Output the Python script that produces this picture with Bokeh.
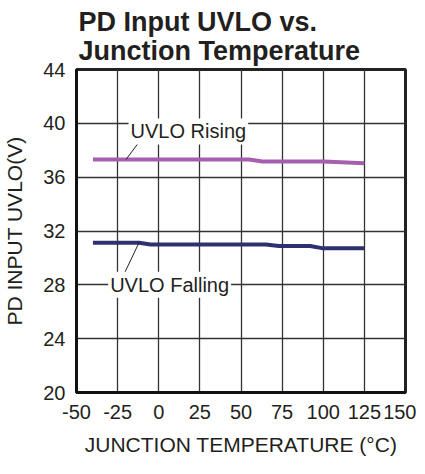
from bokeh.plotting import figure
from bokeh.models import Title, Label, Range1d, FixedTicker
from bokeh.embed import file_html
from bokeh.resources import INLINE

# Data
temp_rising = [-40, 55, 63, 100, 125]
uvlo_rising = [37.31, 37.31, 37.16, 37.16, 37.04]
temp_falling = [-40, -12, -5, 65, 73, 92, 100, 125]
uvlo_falling = [31.13, 31.13, 31.0, 31.0, 30.89, 30.89, 30.71, 30.71]
x_ticks = [-50, -25, 0, 25, 50, 75, 100, 125, 150]
x_tick_labels = ["-50", "-25", "0", "25", "50", "75", "100", "125", "150"]
y_ticks = [20, 24, 28, 32, 36, 40, 44]

# annotation anchors (data units)
rising_label = ("UVLO Rising", 18.0, 39.4)
rising_leader = ([-10.2, -19.9], [38.9, 37.31])
falling_label = ("UVLO Falling", 6.6, 28.0)
falling_leader = ([-12.0, -20.5], [31.13, 28.95])

FONT = "Liberation Sans"
INK = "#231f20"

p = figure(width=416, height=458, output_backend="svg", toolbar_location=None,
           x_range=Range1d(-50, 150), y_range=Range1d(20, 44),
           min_border_left=73, min_border_right=11, min_border_bottom=63,
           min_border_top=10)
p.title = None

t = Title(text="PD Input UVLO vs.\nJunction Temperature", align="left",
          text_font=FONT, text_font_size="27px", text_font_style="bold",
          text_color=INK, text_line_height=0.95, standoff=8, offset=2)
p.add_layout(t, "above")

p.xaxis.ticker = FixedTicker(ticks=x_ticks)
p.yaxis.ticker = FixedTicker(ticks=y_ticks)
p.xaxis.major_label_overrides = {k: v for k, v in zip(x_ticks, x_tick_labels)}
for ax in (p.xaxis[0], p.yaxis[0]):
    ax.major_tick_line_color = None
    ax.minor_tick_line_color = None
    ax.axis_line_color = "#111111"
    ax.axis_line_width = 3
    ax.major_label_text_font = FONT
    ax.major_label_text_font_size = "20px"
    ax.major_label_text_color = INK
    ax.axis_label_text_font = FONT
    ax.axis_label_text_font_size = "21px"
    ax.axis_label_text_font_style = "normal"
    ax.axis_label_text_color = INK

p.xaxis.axis_label = "JUNCTION TEMPERATURE (°C)"
p.yaxis.axis_label = "PD INPUT UVLO(V)"
p.xaxis.major_label_standoff = 6
p.yaxis.major_label_standoff = 5
p.xaxis.axis_label_standoff = 11
p.yaxis.axis_label_standoff = 14

p.grid.grid_line_color = "#333333"
p.grid.grid_line_width = 1.3
p.grid.grid_line_alpha = 1.0
p.outline_line_color = "#222222"
p.outline_line_width = 3
p.background_fill_color = "white"
p.border_fill_color = "white"

p.line(temp_rising, uvlo_rising, line_color="#a65fae", line_width=4)
p.line(temp_falling, uvlo_falling, line_color="#2d3170", line_width=4)

p.line(rising_leader[0], rising_leader[1], line_color=INK, line_width=1)
p.line(falling_leader[0], falling_leader[1], line_color=INK, line_width=1)

for txt, lx, ly in (rising_label, falling_label):
    p.add_layout(Label(x=lx, y=ly, text=txt, text_align="center",
                       text_baseline="middle", text_font=FONT,
                       text_font_size="20px", text_color=INK,
                       background_fill_color="white", background_fill_alpha=1.0,
                       padding=2))

open("out.html", "w").write(file_html(p, INLINE))
